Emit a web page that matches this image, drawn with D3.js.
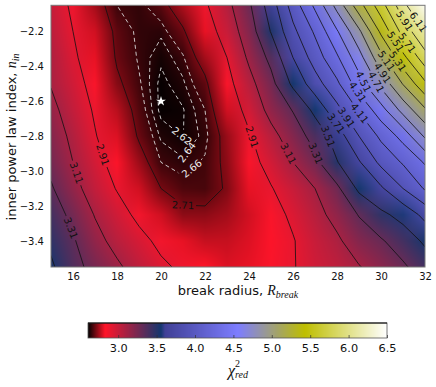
<!DOCTYPE html>
<html>
<head>
<meta charset="utf-8">
<script src="https://cdn.jsdelivr.net/npm/d3@7"></script>
<style>
body { margin: 0; background: #fff; }
text { font-family: "DejaVu Sans", sans-serif; fill: #111; }
.math { font-family: "Liberation Serif", serif; font-style: italic; }
</style>
</head>
<body>
<div id="chart"></div>
<script>
var radii = [15, 16, 17, 18, 19, 20, 21, 22, 23, 24, 25, 26, 27, 28, 29, 30, 31, 32];
var indices = [-2.05, -2.2, -2.35, -2.5, -2.65, -2.8, -2.95, -3.1, -3.25, -3.4, -3.55];

// chi2, one row per inner index
var chi2 = [
    [3.01, 2.88, 2.75, 2.66, 2.65, 2.685, 2.76, 2.885, 3.06, 3.28, 3.61, 4.0, 4.35, 4.78, 5.23, 5.63, 6.04, 6.45],
    [3.04, 2.91, 2.79, 2.69, 2.65, 2.645, 2.70, 2.81, 3.0, 3.21, 3.52, 3.86, 4.14, 4.49, 4.87, 5.35, 5.78, 6.11],
    [3.08, 2.94, 2.81, 2.70, 2.655, 2.625, 2.655, 2.75, 2.91, 3.14, 3.36, 3.71, 4.0, 4.28, 4.63, 5.05, 5.45, 5.83],
    [3.10, 2.98, 2.85, 2.725, 2.665, 2.612, 2.635, 2.69, 2.85, 3.05, 3.25, 3.55, 3.82, 4.07, 4.42, 4.77, 5.12, 5.47],
    [3.16, 3.02, 2.89, 2.77, 2.68, 2.612, 2.618, 2.66, 2.79, 2.97, 3.17, 3.32, 3.56, 3.85, 4.13, 4.43, 4.78, 5.08],
    [3.21, 3.07, 2.92, 2.80, 2.70, 2.635, 2.6195, 2.648, 2.74, 2.89, 3.05, 3.21, 3.38, 3.6, 3.91, 4.15, 4.38, 4.74],
    [3.26, 3.11, 2.97, 2.84, 2.745, 2.66, 2.645, 2.665, 2.73, 2.85, 2.97, 3.11, 3.26, 3.5, 3.69, 3.96, 4.13, 4.33],
    [3.33, 3.17, 3.02, 2.90, 2.79, 2.71, 2.675, 2.67, 2.72, 2.81, 2.90, 3.0, 3.11, 3.27, 3.55, 3.68, 3.91, 4.13],
    [3.41, 3.26, 3.10, 2.98, 2.87, 2.79, 2.73, 2.73, 2.75, 2.79, 2.85, 2.94, 3.05, 3.17, 3.32, 3.47, 3.57, 3.77],
    [3.47, 3.33, 3.17, 3.05, 2.96, 2.87, 2.81, 2.78, 2.78, 2.80, 2.84, 2.90, 3.0, 3.08, 3.21, 3.29, 3.41, 3.54],
    [3.54, 3.37, 3.25, 3.14, 3.03, 2.94, 2.88, 2.83, 2.80, 2.81, 2.85, 2.90, 2.98, 3.03, 3.10, 3.19, 3.28, 3.41]
];

var levels = [2.62, 2.64, 2.66, 2.71, 2.91, 3.11, 3.31, 3.51, 3.71, 3.91, 4.11, 4.31, 4.51, 4.71, 4.91, 5.11, 5.31, 5.51, 5.71, 5.91, 6.11];
var dashedLevels = [2.62, 2.64, 2.66];

// level, radius, index
var labelSpots = [
    [2.62, 20.95, -2.80], [2.64, 21.32, -2.906], [2.66, 21.55, -3.01], [2.71, 21.0, -3.204],
    [2.91, 17.36, -2.906], [2.91, 24.18, -2.803], [3.11, 16.18, -3.01], [3.11, 25.86, -2.895],
    [3.31, 15.73, -3.335], [3.31, 27.09, -2.895], [3.51, 27.55, -2.803], [3.71, 28.0, -2.723],
    [3.91, 28.45, -2.69], [4.11, 29.05, -2.666], [4.31, 28.95, -2.546], [4.51, 29.18, -2.489],
    [4.71, 29.73, -2.494], [4.91, 30.09, -2.437], [5.11, 30.18, -2.374], [5.31, 30.73, -2.374],
    [5.51, 30.64, -2.26], [5.71, 31.18, -2.266], [5.91, 31.0, -2.145], [6.11, 31.64, -2.151]
];

var best = [20, -2.6];

var xTicks = [16, 18, 20, 22, 24, 26, 28, 30, 32];
var yTicks = [-2.2, -2.4, -2.6, -2.8, -3.0, -3.2, -3.4];
var barTicks = [3.0, 3.5, 4.0, 4.5, 5.0, 5.5, 6.0, 6.5];

// the map has a small jump just above the dark blue
var colorStops = [2.607, 2.83, 3.557, 3.61, 4.56, 5.43, 6.5];
var colorValues = ["#000000", "#ff1428", "#14376f", "#404096", "#7d7dff", "#bebe00", "#ffffff"];

var width = 436, height = 387;
var left = 51, right = 425, top_ = 5.3, bottom = 267;

var x = d3.scaleLinear().domain([15, 32]).range([left, right]);
var y = d3.scaleLinear().domain([-2.05, -3.55]).range([top_, bottom]);
var color = d3.scaleLinear().domain(colorStops).range(colorValues).clamp(true);

var svg = d3.select("#chart").append("svg")
    .attr("width", width)
    .attr("height", height)
    .style("display", "block");

var defs = svg.append("defs");
defs.append("clipPath").attr("id", "plotClip").append("rect")
    .attr("x", left).attr("y", top_)
    .attr("width", right - left).attr("height", bottom - top_);

var colIndex = d3.scaleLinear().domain(radii).range(d3.range(radii.length));
var rowIndex = d3.scaleLinear().domain(indices).range(d3.range(indices.length));

// gouraud style: colours sit on the grid nodes and get blended between them
var nodeColors = chi2.map(function(row) {
    return row.map(function(v) { return d3.rgb(color(v)); });
});

function blendAt(c, r, ch) {
    var c0 = Math.min(Math.floor(c), radii.length - 2);
    var r0 = Math.min(Math.floor(r), indices.length - 2);
    var fc = c - c0, fr = r - r0;
    var a = nodeColors[r0][c0][ch] + (nodeColors[r0][c0 + 1][ch] - nodeColors[r0][c0][ch]) * fc;
    var b = nodeColors[r0 + 1][c0][ch] + (nodeColors[r0 + 1][c0 + 1][ch] - nodeColors[r0 + 1][c0][ch]) * fc;
    return a + (b - a) * fr;
}

// heat map painted on a canvas, then put into the svg as an image
var w = Math.ceil(right - left), h = Math.ceil(bottom - top_);
var canvas = document.createElement("canvas");
canvas.width = w;
canvas.height = h;
var ctx = canvas.getContext("2d");
var img = ctx.createImageData(w, h);
for (var j = 0; j < h; j++) {
    for (var i = 0; i < w; i++) {
        var c = colIndex(x.invert(left + (i + 0.5) * (right - left) / w));
        var r = rowIndex(y.invert(top_ + (j + 0.5) * (bottom - top_) / h));
        var k = (j * w + i) * 4;
        img.data[k] = blendAt(c, r, "r");
        img.data[k + 1] = blendAt(c, r, "g");
        img.data[k + 2] = blendAt(c, r, "b");
        img.data[k + 3] = 255;
    }
}
ctx.putImageData(img, 0, 0);

svg.append("image")
    .attr("x", left).attr("y", top_)
    .attr("width", right - left).attr("height", bottom - top_)
    .attr("preserveAspectRatio", "none")
    .attr("href", canvas.toDataURL());

// contours
var contourGen = d3.contours().size([radii.length, indices.length]);
var flat = d3.merge(chi2);

// d3.contours keeps values at cell centres, so shift by half a cell
var gx = d3.scaleLinear().domain([0.5, radii.length - 0.5]).range([left, right]);
var gy = d3.scaleLinear().domain([0.5, indices.length - 0.5]).range([top_, bottom]);
var linePath = d3.geoPath(d3.geoTransform({
    point: function(a, b) { this.stream.point(gx(a), gy(b)); }
}));

var plot = svg.append("g").attr("clip-path", "url(#plotClip)");

levels.forEach(function(level, li) {
    var shape = contourGen.contour(flat, level);
    var rings = [];
    shape.coordinates.forEach(function(poly) {
        poly.forEach(function(ring) {
            rings.push(ring.map(function(p) { return [gx(p[0]), gy(p[1])]; }));
        });
    });

    var dashed = dashedLevels.indexOf(level) >= 0;
    var mask = defs.append("mask").attr("id", "gap" + li)
        .attr("maskUnits", "userSpaceOnUse")
        .attr("x", 0).attr("y", 0).attr("width", width).attr("height", height);
    mask.append("rect").attr("width", width).attr("height", height).attr("fill", "#fff");

    labelSpots.filter(function(s) { return s[0] === level; }).forEach(function(s) {
        var px = x(s[1]), py = y(s[2]);
        var hit = nearestOnRings(rings, px, py);
        var angle = Math.atan2(hit.dy, hit.dx) * 180 / Math.PI;
        if (angle > 90) angle -= 180;
        if (angle < -90) angle += 180;
        mask.append("rect")
            .attr("x", -13).attr("y", -6).attr("width", 26).attr("height", 12)
            .attr("fill", "#000")
            .attr("transform", "translate(" + hit.x + "," + hit.y + ") rotate(" + angle + ")");
        svg.append("text")
            .attr("transform", "translate(" + hit.x + "," + hit.y + ") rotate(" + angle + ")")
            .attr("text-anchor", "middle")
            .attr("dy", "0.36em")
            .style("font-size", "10px")
            .style("fill", dashed ? "#eee" : "#111")
            .text(level.toFixed(2));
    });

    plot.append("g").attr("mask", "url(#gap" + li + ")")
        .append("path")
        .attr("d", linePath(shape))
        .attr("fill", "none")
        .attr("stroke", dashed ? "#ddd" : "#111")
        .attr("stroke-width", dashed ? 0.9 : 0.8)
        .attr("stroke-dasharray", dashed ? "4,3" : null);
});

function nearestOnRings(rings, px, py) {
    var out = { d: Infinity };
    rings.forEach(function(ring) {
        for (var i = 0; i < ring.length - 1; i++) {
            var a = ring[i], b = ring[i + 1];
            var dx = b[0] - a[0], dy = b[1] - a[1];
            var t = ((px - a[0]) * dx + (py - a[1]) * dy) / (dx * dx + dy * dy || 1);
            t = Math.max(0, Math.min(1, t));
            var qx = a[0] + dx * t, qy = a[1] + dy * t;
            var d = (qx - px) * (qx - px) + (qy - py) * (qy - py);
            if (d < out.d) out = { d: d, x: qx, y: qy, dx: dx, dy: dy };
        }
    });
    return out;
}

// best fit star
svg.append("path")
    .attr("d", d3.symbol(d3.symbolStar, 30)())
    .attr("transform", "translate(" + x(best[0]) + "," + y(best[1]) + ")")
    .attr("fill", "#fff");

// axes
var xAxis = svg.append("g")
    .attr("transform", "translate(0," + bottom + ")")
    .call(d3.axisBottom(x).tickValues(xTicks).tickSize(0).tickPadding(6).tickFormat(d3.format("d")));
var yAxis = svg.append("g")
    .attr("transform", "translate(" + left + ",0)")
    .call(d3.axisLeft(y).tickValues(yTicks).tickSize(0).tickPadding(7)
        .tickFormat(function(d) { return "\u2212" + Math.abs(d).toFixed(1); }));
[xAxis, yAxis].forEach(function(a) {
    a.select(".domain").remove();
    a.selectAll("text").style("font-size", "10px").style("font-family", "DejaVu Sans");
});

svg.append("rect")
    .attr("x", left).attr("y", top_)
    .attr("width", right - left).attr("height", bottom - top_)
    .attr("fill", "none").attr("stroke", "#777").attr("stroke-width", 1);

var xLabel = svg.append("text")
    .attr("x", 238).attr("y", 295)
    .attr("text-anchor", "middle")
    .style("font-size", "13px")
    .text("break radius, ");
xLabel.append("tspan").attr("class", "math").style("font-size", "14px").text("R");
xLabel.append("tspan").attr("class", "math").attr("dy", 3).style("font-size", "10px").text("break");

var yLabel = svg.append("text")
    .attr("transform", "translate(16,137) rotate(-90)")
    .attr("text-anchor", "middle")
    .style("font-size", "13px")
    .text("inner power law index, ");
yLabel.append("tspan").attr("class", "math").style("font-size", "14px").text("n");
yLabel.append("tspan").attr("class", "math").attr("dy", 3).style("font-size", "10px").text("in");

// colour bar
var barX = d3.scaleLinear().domain([colorStops[0], 6.5]).range([88, 387]);
var barTop = 323, barH = 15;
svg.append("g").selectAll("rect")
    .data(d3.range(88, 387))
    .enter().append("rect")
    .attr("x", function(d) { return d; })
    .attr("y", barTop)
    .attr("width", 1.2)
    .attr("height", barH)
    .attr("fill", function(d) { return color(barX.invert(d + 0.5)); });
svg.append("rect")
    .attr("x", 88).attr("y", barTop)
    .attr("width", 299).attr("height", barH)
    .attr("fill", "none").attr("stroke", "#555").attr("stroke-width", 0.8);
svg.append("line")
    .attr("x1", 88).attr("x2", 387).attr("y1", barTop).attr("y2", barTop)
    .attr("stroke", "#000").attr("stroke-width", 1);

var barAxis = svg.append("g")
    .attr("transform", "translate(0," + (barTop + barH) + ")")
    .call(d3.axisBottom(barX).tickValues(barTicks).tickSizeInner(-3).tickSizeOuter(0).tickPadding(6).tickFormat(d3.format(".1f")));
barAxis.select(".domain").remove();
barAxis.selectAll("line").attr("stroke", "#333").attr("stroke-width", 0.7);
barAxis.selectAll("text").style("font-size", "11.3px").style("font-family", "DejaVu Sans");

var barLabel = svg.append("text")
    .attr("x", 238).attr("y", 376)
    .attr("text-anchor", "middle")
    .attr("class", "math");
barLabel.append("tspan").style("font-size", "16px").text("\u03c7");
barLabel.append("tspan").attr("dy", -9).style("font-size", "10px").style("font-style", "normal").text("2");
barLabel.append("tspan").attr("dx", -5).attr("dy", 11).style("font-size", "10px").text("red");
</script>
</body>
</html>
